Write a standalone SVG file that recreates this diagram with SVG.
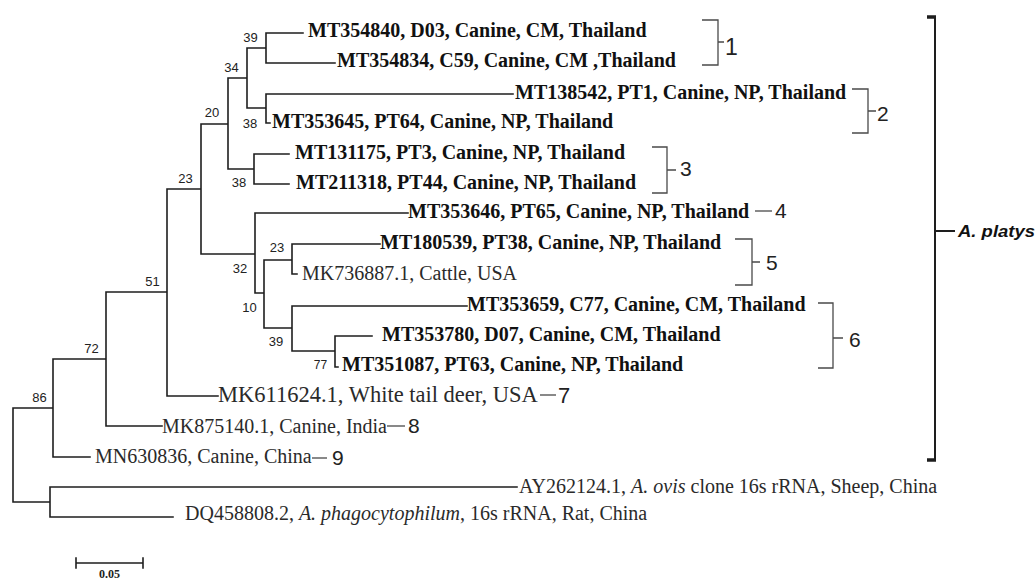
<svg xmlns="http://www.w3.org/2000/svg" width="1036" height="579" viewBox="0 0 1036 579">
<style>
.tree{fill:none;stroke:#1e1e1e;stroke-width:1.6;stroke-linecap:square}
.br{fill:none;stroke:#4a4a4a;stroke-width:1.3}
.big{fill:none;stroke:#1e1e1e;stroke-width:2}
.b{font-family:"Liberation Serif","Times New Roman",serif;font-weight:bold;font-size:20px;fill:#111}
.r{font-family:"Liberation Serif","Times New Roman",serif;font-size:20px;fill:#2a2a2a}
.bs{font-family:"Liberation Sans",Arial,sans-serif;font-size:13px;fill:#222;text-anchor:middle}
.g{font-family:"Liberation Sans",Arial,sans-serif;font-size:21px;fill:#222}
.sp{font-family:"Liberation Sans",Arial,sans-serif;font-size:17px;font-weight:bold;font-style:italic;fill:#111}
</style>
<rect width="1036" height="579" fill="#fff"/>
<g id="connectors">
<path class="tree" d="M266,33V63M266,33H303M266,63H335
M266,94V123M266,94H513M266,123H270
M247,48V108M247,48H266M247,108H266
M254,154V184M254,154H289M254,184H289
M228,78V169M228,78H247M228,169H254
M201,124V254M201,124H228M201,254H255
M255,213V293M255,213H408M255,293H264
M264,260V328M264,260H292M264,328H292
M292,244V274M292,244H380M292,274H297
M292,306V351M292,306H467M292,351H335
M335,336V367M335,336H372M335,367H338
M167,189V396M167,189H201M167,396H218
M106,292V426M106,292H167M106,426H162
M53,359V457M53,359H106M53,457H90
M13,408V502M13,408H53M13,502H50
M50,487V517M50,487H517M50,517H173"/>
</g>
<g id="bootstrap">
<text class="bs" x="250.5" y="42">39</text>
<text class="bs" x="231.5" y="72">34</text>
<text class="bs" x="212" y="117">20</text>
<text class="bs" x="250" y="128">38</text>
<text class="bs" x="239" y="187">38</text>
<text class="bs" x="185.5" y="183">23</text>
<text class="bs" x="277" y="252">23</text>
<text class="bs" x="240" y="273">32</text>
<text class="bs" x="152.5" y="286">51</text>
<text class="bs" x="249.5" y="312">10</text>
<text class="bs" x="276" y="346">39</text>
<text class="bs" x="320.5" y="369" style="font-size:12px">77</text>
<text class="bs" x="91.5" y="353">72</text>
<text class="bs" x="39.5" y="402">86</text>
</g>
<g id="leaf-MT354840"><text class="b" x="308" y="37">MT354840, D03, Canine, CM, Thailand</text></g>
<g id="leaf-MT354834"><text class="b" x="337" y="67">MT354834, C59, Canine, CM ,Thailand</text></g>
<g id="leaf-MT138542"><text class="b" x="515" y="99">MT138542, PT1, Canine, NP, Thailand</text></g>
<g id="leaf-MT353645"><text class="b" x="272" y="128">MT353645, PT64, Canine, NP, Thailand</text></g>
<g id="leaf-MT131175"><text class="b" x="295" y="159">MT131175, PT3, Canine, NP, Thailand</text></g>
<g id="leaf-MT211318"><text class="b" x="296" y="189">MT211318, PT44, Canine, NP, Thailand</text></g>
<g id="leaf-MT353646"><text class="b" x="408" y="218">MT353646, PT65, Canine, NP, Thailand</text></g>
<g id="leaf-MT180539"><text class="b" x="380" y="249">MT180539, PT38, Canine, NP, Thailand</text></g>
<g id="leaf-MK736887"><text class="r" x="302" y="280">MK736887.1, Cattle, USA</text></g>
<g id="leaf-MT353659"><text class="b" x="467" y="311">MT353659, C77, Canine, CM, Thailand</text></g>
<g id="leaf-MT353780"><text class="b" x="382" y="341">MT353780, D07, Canine, CM, Thailand</text></g>
<g id="leaf-MT351087"><text class="b" x="342" y="371">MT351087, PT63, Canine, NP, Thailand</text></g>
<g id="leaf-MK611624"><text class="r" x="218" y="402" style="font-size:22.5px">MK611624.1, White tail deer, USA</text></g>
<g id="leaf-MK875140"><text class="r" x="162" y="433">MK875140.1, Canine, India</text></g>
<g id="leaf-MN630836"><text class="r" x="95" y="463">MN630836, Canine, China</text></g>
<g id="leaf-AY262124"><text class="r" x="519" y="493">AY262124.1, <tspan font-style="italic">A. ovis</tspan> clone 16s rRNA, Sheep, China</text></g>
<g id="leaf-DQ458808"><text class="r" x="185" y="520">DQ458808.2, <tspan font-style="italic">A. phagocytophilum</tspan>, 16s rRNA, Rat, China</text></g>
<g id="group-1"><path class="br" d="M702,20H718V65H702M718,42H724"/><text class="g" x="725" y="55" style="font-size:23px">1</text></g>
<g id="group-2"><path class="br" d="M852,89H868V133H852M868,111H876"/><text class="g" x="877" y="121">2</text></g>
<g id="group-3"><path class="br" d="M652,147H667V193H652M667,170H676"/><text class="g" x="680" y="176">3</text></g>
<g id="group-4"><path class="br" d="M755,211H772"/><text class="g" x="775" y="218">4</text></g>
<g id="group-5"><path class="br" d="M735,239H752V285H735M752,262H760"/><text class="g" x="766" y="270">5</text></g>
<g id="group-6"><path class="br" d="M818,303H833V368H818M833,338H843"/><text class="g" x="849" y="347">6</text></g>
<g id="group-7"><path class="br" d="M540,395H556"/><text class="g" x="558" y="403" style="font-size:22px">7</text></g>
<g id="group-8"><path class="br" d="M387,426H405"/><text class="g" x="408" y="433">8</text></g>
<g id="group-9"><path class="br" d="M312,458H327"/><text class="g" x="332" y="465">9</text></g>
<g id="clade-platys">
<path class="big" d="M935,17V460M936,231H955"/>
<path d="M927,17H936M927,460H936" stroke="#1e1e1e" stroke-width="3.5"/>
<text class="sp" x="958" y="237" textLength="77" lengthAdjust="spacingAndGlyphs">A. platys</text>
</g>
<g id="scale-bar">
<path class="tree" d="M76,563H143M76,558V568M143,558V568"/>
<text x="109.5" y="578" text-anchor="middle" style="font-family:'Liberation Serif','Times New Roman',serif;font-weight:bold;font-size:12px;fill:#222">0.05</text>
</g>
</svg>
